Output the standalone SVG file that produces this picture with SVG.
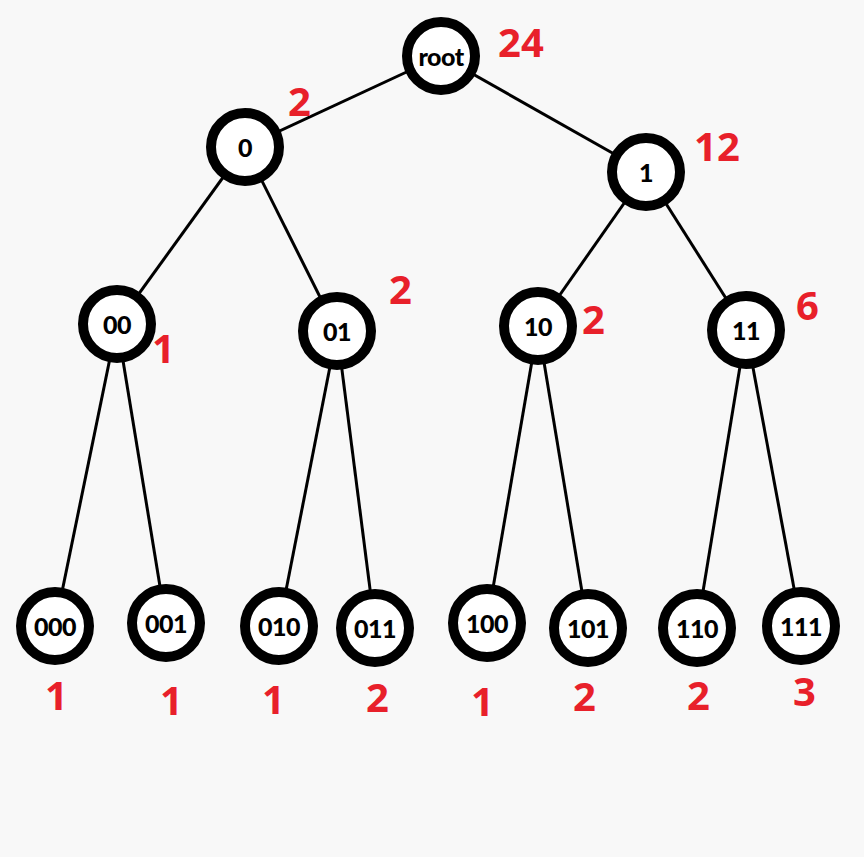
<svg xmlns="http://www.w3.org/2000/svg" width="864" height="857" viewBox="0 0 864 857">
<style>
.n circle{fill:#fff;stroke:#000;stroke-width:10}
.n text{font-family:Lato,"Open Sans",sans-serif;font-weight:900;font-size:25px;fill:#000;text-anchor:middle;dominant-baseline:central;letter-spacing:-0.5px}
.e line{stroke:#000;stroke-width:3}
.c{font-family:"Noto Sans","Open Sans",sans-serif;font-weight:700;font-size:40px;fill:#e8202a}
</style>
<rect width="864" height="857" fill="#f8f8f8"/>
<g id="connectors" class="e">
<line x1="441" y1="56" x2="245" y2="147"/>
<line x1="441" y1="56" x2="646" y2="172"/>
<line x1="245" y1="147" x2="117" y2="324"/>
<line x1="245" y1="147" x2="337" y2="331"/>
<line x1="646" y1="172" x2="538" y2="326"/>
<line x1="646" y1="172" x2="746" y2="330"/>
<line x1="117" y1="324" x2="55" y2="626"/>
<line x1="117" y1="324" x2="166" y2="623"/>
<line x1="337" y1="331" x2="279" y2="626"/>
<line x1="337" y1="331" x2="375" y2="628"/>
<line x1="538" y1="326" x2="487" y2="623"/>
<line x1="538" y1="326" x2="588" y2="628"/>
<line x1="746" y1="330" x2="697" y2="628"/>
<line x1="746" y1="330" x2="801" y2="626"/>
</g>
<g id="n-root" class="n"><circle cx="441" cy="56" r="34"/><text x="441" y="56">root</text></g>
<g id="n-0" class="n"><circle cx="245" cy="147" r="34"/><text x="245" y="147">0</text></g>
<g id="n-1" class="n"><circle cx="646" cy="172" r="34"/><text x="646" y="172">1</text></g>
<g id="n-00" class="n"><circle cx="117" cy="324" r="34"/><text x="117" y="324">00</text></g>
<g id="n-01" class="n"><circle cx="337" cy="331" r="34"/><text x="337" y="331">01</text></g>
<g id="n-10" class="n"><circle cx="538" cy="326" r="34"/><text x="538" y="326">10</text></g>
<g id="n-11" class="n"><circle cx="746" cy="330" r="34"/><text x="746" y="330">11</text></g>
<g id="n-000" class="n"><circle cx="55" cy="626" r="34"/><text x="55" y="626">000</text></g>
<g id="n-001" class="n"><circle cx="166" cy="623" r="34"/><text x="166" y="623">001</text></g>
<g id="n-010" class="n"><circle cx="279" cy="626" r="34"/><text x="279" y="626">010</text></g>
<g id="n-011" class="n"><circle cx="375" cy="628" r="34"/><text x="375" y="628">011</text></g>
<g id="n-100" class="n"><circle cx="487" cy="623" r="34"/><text x="487" y="623">100</text></g>
<g id="n-101" class="n"><circle cx="588" cy="628" r="34"/><text x="588" y="628">101</text></g>
<g id="n-110" class="n"><circle cx="697" cy="628" r="34"/><text x="697" y="628">110</text></g>
<g id="n-111" class="n"><circle cx="801" cy="626" r="34"/><text x="801" y="626">111</text></g>
<g id="counts" class="c">
<text x="498" y="57">24</text>
<text x="288" y="116">2</text>
<text x="694" y="161">12</text>
<text x="152" y="363">1</text>
<text x="389" y="304">2</text>
<text x="582" y="334">2</text>
<text x="796" y="320">6</text>
<text x="45" y="710">1</text>
<text x="160" y="715">1</text>
<text x="262" y="714">1</text>
<text x="366" y="712">2</text>
<text x="471" y="716">1</text>
<text x="573" y="711">2</text>
<text x="687" y="710">2</text>
<text x="793" y="706">3</text>
</g>
</svg>
